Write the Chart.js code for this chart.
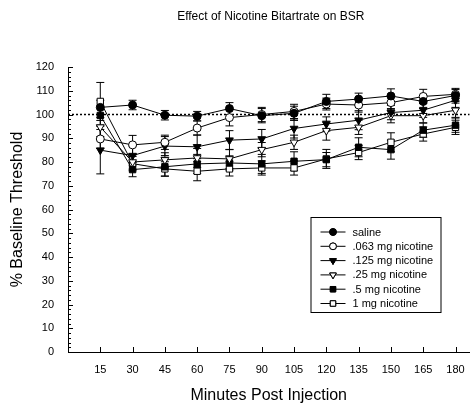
<!DOCTYPE html>
<html>
<head>
<meta charset="utf-8">
<script src="https://cdn.jsdelivr.net/npm/chart.js@4"></script>
<style>
  html, body { margin: 0; padding: 0; background: #fff; }
  #wrap { width: 475px; height: 410px; }
</style>
</head>
<body>
<div id="wrap"><canvas id="bsrChart" width="475" height="410"></canvas></div>
<script>
const minutes = [15, 30, 45, 60, 75, 90, 105, 120, 135, 150, 165, 180];

const saline    = [103, 104, 99.7, 99.3, 102.5, 99.5, 100.5, 105.5, 106.5, 107.8, 105.5, 108];
const salineErr = [3, 2, 2, 2, 2.5, 3, 3, 3, 2.5, 3, 2.5, 2.5];

const nic063    = [89.7, 87.2, 88.3, 94.3, 98.7, 100, 101.3, 104.4, 104, 105, 107.6, 108.5];
const nic063Err = [4, 4, 3, 3, 3.5, 3, 3, 2.5, 3, 3, 3, 2.5];

const nic125    = [85, 82.7, 86.7, 86.4, 89.2, 89.7, 94.1, 96, 97.6, 100.8, 101.8, 106];
const nic125Err = [10, 4, 4, 5, 4, 4, 4, 3, 4, 3, 3, 3];

const nic25     = [94.7, 80, 80.9, 81.7, 81.3, 85.2, 88.3, 93.2, 94.6, 99.5, 99.5, 101.8];
const nic25Err  = [4, 3, 3, 4, 4, 3, 3, 4, 3, 3, 3, 3];

const nic5      = [99.6, 76.8, 78, 79.2, 79.6, 79.2, 80.3, 81, 86.2, 85.2, 93.4, 95.5];
const nic5Err   = [4, 3, 4, 4, 3, 4, 4, 3, 4, 4, 3, 3];

const nic1      = [105.5, 79.3, 77.1, 76.1, 77.1, 77.5, 77.5, 81.3, 84, 88.3, 91.8, 94.6];
const nic1Err   = [8, 3, 3, 4, 3, 3, 3, 4, 3, 4, 3, 3];

const yTicks = [0, 10, 20, 30, 40, 50, 60, 70, 80, 90, 100, 110, 120];
const baseline = 100;
const chartTitle = 'Effect of Nicotine Bitartrate on BSR';

const FONT = "Arial, 'Liberation Sans', sans-serif";

function series(label, values, errs, style, filled) {
    return {
        label: label,
        data: minutes.map((m, i) => ({ x: m, y: values[i], err: errs[i] })),
        borderColor: '#000',
        borderWidth: 1,
        pointStyle: style.shape,
        rotation: style.rot || 0,
        pointRadius: style.r,
        pointBackgroundColor: filled ? '#000' : '#fff',
        pointBorderColor: '#000',
        pointBorderWidth: 1,
        tension: 0
    };
}

const circle = { shape: 'circle', r: 4 };
const triDown = { shape: 'triangle', rot: 180, r: 4.5 };
const square = { shape: 'rect', r: 4.5 };

// error bars, baseline, inward ticks, title and the boxed legend
const extras = {
    id: 'extras',
    beforeDatasetsDraw(chart) {
        const { ctx, chartArea, scales: { x, y } } = chart;
        ctx.save();
        // dotted 100% line
        ctx.strokeStyle = '#000';
        ctx.lineWidth = 1.5;
        ctx.setLineDash([2, 2]);
        ctx.beginPath();
        ctx.moveTo(chartArea.left, y.getPixelForValue(baseline));
        ctx.lineTo(chartArea.right, y.getPixelForValue(baseline));
        ctx.stroke();
        ctx.setLineDash([]);

        ctx.lineWidth = 1;
        chart.data.datasets.forEach(ds => {
            ds.data.forEach(p => {
                const px = x.getPixelForValue(p.x);
                const top = y.getPixelForValue(p.y + p.err);
                const bot = y.getPixelForValue(p.y - p.err);
                ctx.beginPath();
                ctx.moveTo(px, top); ctx.lineTo(px, bot);
                ctx.moveTo(px - 4, top); ctx.lineTo(px + 4, top);
                ctx.moveTo(px - 4, bot); ctx.lineTo(px + 4, bot);
                ctx.stroke();
            });
        });

        // inward ticks
        ctx.beginPath();
        for (let v = 0; v <= 120; v += 2) {
            const py = Math.round(y.getPixelForValue(v)) + 0.5;
            const len = v % 10 === 0 ? 5 : 3;
            ctx.moveTo(chartArea.left, py);
            ctx.lineTo(chartArea.left + len, py);
        }
        minutes.forEach(m => {
            const px = Math.round(x.getPixelForValue(m)) + 0.5;
            ctx.moveTo(px, chartArea.bottom);
            ctx.lineTo(px, chartArea.bottom - 5);
        });
        ctx.stroke();

        // title centred over the plot area
        ctx.fillStyle = '#000';
        ctx.font = '12px ' + FONT;
        ctx.textAlign = 'center';
        ctx.textBaseline = 'middle';
        ctx.fillText(chartTitle, (chartArea.left + chartArea.right) / 2 + 2, 17);
        ctx.restore();
    },
    afterDraw(chart) {
        const { ctx, chartArea } = chart;
        const bx = chartArea.right - 159, by = chartArea.bottom - 135;
        const bw = 130, bh = 95;
        ctx.save();
        ctx.fillStyle = '#fff';
        ctx.fillRect(bx, by, bw, bh);
        ctx.strokeStyle = '#000';
        ctx.lineWidth = 1;
        ctx.strokeRect(bx + 0.5, by + 0.5, bw, bh);
        ctx.font = '11px ' + FONT;
        ctx.textBaseline = 'middle';
        chart.data.datasets.forEach((ds, i) => {
            const ly = by + 15 + i * 14.3;
            ctx.beginPath();
            ctx.moveTo(bx + 10, ly); ctx.lineTo(bx + 35, ly);
            ctx.stroke();
            Chart.helpers.drawPoint(ctx, {
                pointStyle: ds.pointStyle,
                rotation: ds.rotation,
                radius: ds.pointRadius * 0.85,
                borderWidth: 1
            }, bx + 22.5, ly);
            ctx.fillStyle = ds.pointBackgroundColor;
            ctx.fill();
            ctx.stroke();
            ctx.fillStyle = '#000';
            ctx.fillText(ds.label, bx + 42, ly + 0.5);
        });
        ctx.restore();
    }
};

new Chart(document.getElementById('bsrChart').getContext('2d'), {
    type: 'line',
    data: {
        datasets: [
            series('saline', saline, salineErr, circle, true),
            series('.063 mg nicotine', nic063, nic063Err, circle, false),
            series('.125 mg nicotine', nic125, nic125Err, triDown, true),
            series('.25 mg nicotine', nic25, nic25Err, triDown, false),
            series('.5 mg nicotine', nic5, nic5Err, square, true),
            series('1 mg nicotine', nic1, nic1Err, square, false)
        ]
    },
    options: {
        responsive: false,
        animation: false,
        layout: { padding: { left: 4, right: 0, top: 67, bottom: 1 } },
        scales: {
            x: {
                type: 'linear',
                min: 0,
                max: 186.5,
                afterBuildTicks: s => { s.ticks = minutes.map(v => ({ value: v })); },
                afterFit: s => { s.height = 57; },
                grid: { display: false },
                border: { display: true, color: '#000', width: 1 },
                ticks: { color: '#000', font: { family: FONT, size: 11 }, padding: 3, maxRotation: 0 },
                title: {
                    display: true,
                    text: 'Minutes Post Injection',
                    color: '#000',
                    font: { family: FONT, size: 16 },
                    padding: { top: 4 }
                }
            },
            y: {
                min: 0,
                max: 120,
                afterBuildTicks: s => { s.ticks = yTicks.map(v => ({ value: v })); },
                afterFit: s => { s.width = 64; },
                grid: { display: false },
                border: { display: true, color: '#000', width: 1 },
                ticks: { color: '#000', font: { family: FONT, size: 11 }, padding: 6 },
                title: {
                    display: true,
                    text: '% Baseline Threshold',
                    color: '#000',
                    font: { family: FONT, size: 16 },
                    padding: { bottom: 4 }
                }
            }
        },
        plugins: {
            legend: { display: false },
            tooltip: { enabled: false },
            title: { display: false }
        }
    },
    plugins: [extras]
});
</script>
</body>
</html>
